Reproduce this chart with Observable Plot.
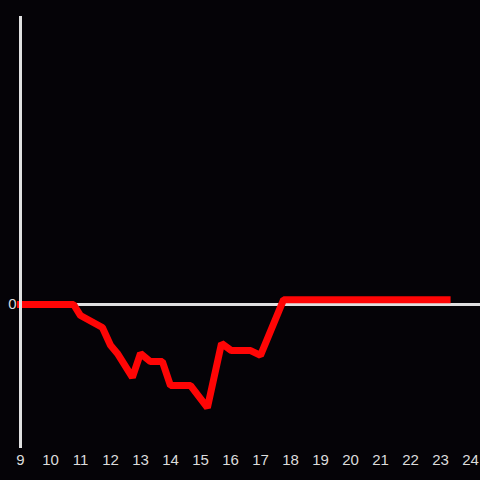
<!DOCTYPE html>
<html>
<head>
<meta charset="utf-8">
<script src="https://cdn.jsdelivr.net/npm/d3@7"></script>
<script src="https://cdn.jsdelivr.net/npm/@observablehq/plot@0.6"></script>
<style>
  html, body { margin: 0; padding: 0; background: #050307; }
  #chart { width: 480px; height: 480px; }
</style>
</head>
<body>
<div id="chart"></div>
<script>
const hours = [9, 10.77, 11.0, 11.73, 12.0, 12.23, 12.73, 13.0, 13.33, 13.73, 14.0, 14.67, 15.23, 15.7, 16.03, 16.67, 17.0, 17.77, 23.22];
const values = [0, 0, -0.23, -0.48, -0.85, -1.02, -1.52, -1.02, -1.19, -1.19, -1.69, -1.69, -2.15, -0.81, -0.96, -0.96, -1.06, 0.1, 0.1];
const xTicks = [9, 10, 11, 12, 13, 14, 15, 16, 17, 18, 19, 20, 21, 22, 23, 24];
const yTicks = [0];

const data = hours.map((h, i) => ({x: h, y: values[i]}));

const chart = Plot.plot({
  width: 480,
  height: 480,
  marginTop: 16,
  marginBottom: 32,
  marginLeft: 20,
  marginRight: 0,
  style: {background: "#050307", color: "#dcdcdc", fontSize: "15px", fontFamily: "'Liberation Sans', Arial, sans-serif"},
  x: {domain: [9, 24 + 1/3], ticks: xTicks, tickSize: 0, tickPadding: 6, label: null},
  y: {domain: [-3, 6], ticks: yTicks, tickSize: 0, tickPadding: 4, label: null},
  marks: [
    Plot.ruleY([0], {stroke: "#e0e0e0", strokeWidth: 3}),
    Plot.line(data, {x: "x", y: "y", stroke: "#ff0505", strokeWidth: 7, strokeLinejoin: "miter", strokeLinecap: "square"}),
    Plot.ruleX([9], {stroke: "#e0e0e0", strokeWidth: 3})
  ]
});
document.getElementById("chart").appendChild(chart);
</script>
</body>
</html>
